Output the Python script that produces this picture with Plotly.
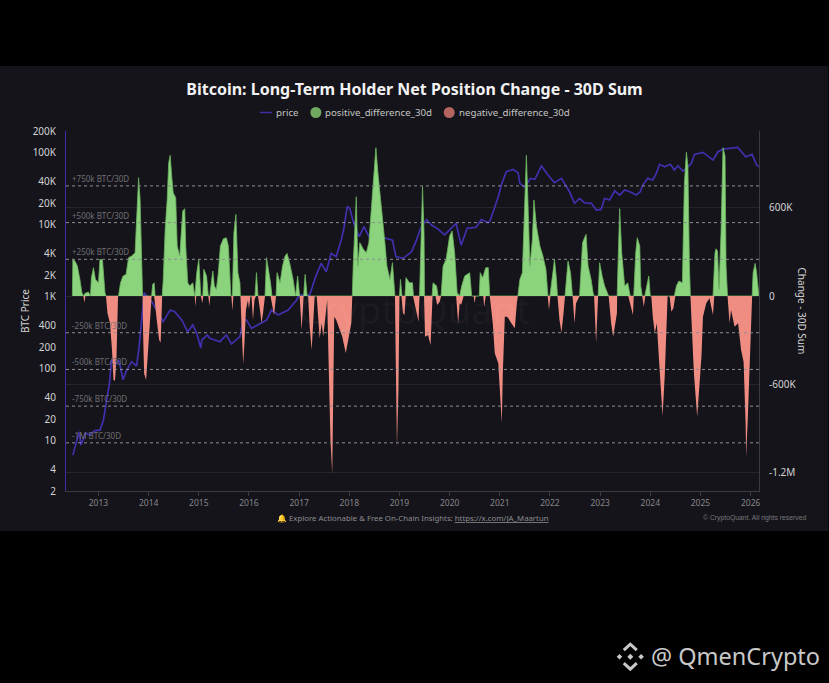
import plotly.graph_objects as go

# years as decimal
price_x = [2012.49, 2012.53, 2012.58, 2012.62, 2012.65, 2012.75, 2012.83, 2012.93, 2013.03, 2013.10,
           2013.16, 2013.22, 2013.26, 2013.33, 2013.41, 2013.49, 2013.55, 2013.66, 2013.76, 2013.81,
           2013.88, 2013.91, 2014.08, 2014.16, 2014.29, 2014.43, 2014.52, 2014.66, 2014.78, 2014.88,
           2014.96, 2015.04, 2015.06, 2015.17, 2015.22, 2015.42, 2015.55, 2015.65, 2015.82, 2015.885,
           2015.95, 2016.05, 2016.22, 2016.35, 2016.45, 2016.58, 2016.78, 2016.95, 2017.0, 2017.21,
           2017.33, 2017.44, 2017.54, 2017.64, 2017.74, 2017.84, 2017.89, 2017.96, 2018.01, 2018.09,
           2018.20, 2018.29, 2018.395, 2018.74, 2018.86, 2018.93, 2019.07, 2019.24, 2019.34, 2019.42,
           2019.54, 2019.64, 2019.75, 2019.90, 2020.13, 2020.23, 2020.35, 2020.53, 2020.63, 2020.765,
           2020.80, 2020.90, 2020.97, 2021.03, 2021.13, 2021.265, 2021.365, 2021.40, 2021.50, 2021.61,
           2021.70, 2021.83, 2021.96, 2022.09, 2022.23, 2022.39, 2022.49, 2022.59, 2022.69, 2022.825,
           2022.925, 2023.02, 2023.09, 2023.19, 2023.29, 2023.39, 2023.49, 2023.59, 2023.72, 2023.80,
           2023.85, 2023.95, 2024.05, 2024.12, 2024.185, 2024.285, 2024.40, 2024.48, 2024.55, 2024.65,
           2024.72, 2024.82, 2024.88, 2025.05, 2025.17, 2025.25, 2025.35, 2025.45, 2025.58, 2025.745,
           2025.90, 2026.03, 2026.12, 2026.165]
price_usd = [6.3, 8.2, 10.8, 13.3, 8.7, 12.7, 12, 13.8, 14, 19.4,
             37, 63, 132, 112, 130, 70, 91, 125, 109, 200,
             650, 1130, 815, 650, 450, 650, 620, 475, 325, 404,
             310, 194, 250, 294, 264, 237, 294, 220, 279, 474,
             474, 363, 425, 474, 653, 557, 653, 899, 1050, 1050,
             1900, 2900, 2220, 4000, 3600, 6125, 8700, 18000, 16800, 10400,
             6800, 9380, 6800, 6450, 6100, 3600, 3400, 4200, 6100, 8900,
             11800, 9900, 8900, 7200, 10400, 5200, 8900, 9200, 11800, 10700,
             11000, 17800, 24500, 35600, 54400, 58600, 52700, 37500, 33000, 44000,
             42700, 65300, 49000, 38300, 44000, 28700, 19800, 23200, 20100, 19800,
             16000, 16300, 23200, 22000, 29600, 25800, 30300, 28700, 25800, 28700,
             35500, 44000, 41700, 51600, 68900, 63800, 68900, 57400, 65900, 55600,
             60500, 71000, 94600, 101000, 87900, 79000, 103000, 112000, 115000, 118500,
             87900, 94600, 67300, 63800]

# thousands of BTC
positive_x = [2012.48, 2012.49, 2012.53, 2012.58, 2012.63, 2012.67, 2012.70, 2012.73, 2012.80, 2012.84,
              2012.86, 2012.90, 2012.94, 2013.0, 2013.03, 2013.08, 2013.13, 2013.15, 2013.40, 2013.44,
              2013.49, 2013.55, 2013.60, 2013.66, 2013.73, 2013.77, 2013.80, 2013.83, 2013.87, 2013.88,
              2014.06, 2014.08, 2014.11, 2014.13, 2014.27, 2014.29, 2014.33, 2014.37, 2014.40, 2014.43,
              2014.46, 2014.49, 2014.54, 2014.57, 2014.62, 2014.68, 2014.72, 2014.74, 2014.78, 2014.82,
              2014.88, 2014.92, 2014.96, 2015.0, 2015.04, 2015.08, 2015.10, 2015.155, 2015.19, 2015.22,
              2015.25, 2015.28, 2015.31, 2015.35, 2015.39, 2015.43, 2015.49, 2015.55, 2015.59, 2015.64,
              2015.67, 2015.70, 2015.74, 2015.78, 2015.82, 2015.83, 2016.12, 2016.15, 2016.18, 2016.32,
              2016.35, 2016.39, 2016.43, 2016.46, 2016.54, 2016.56, 2016.62, 2016.67, 2016.72, 2016.76,
              2016.81, 2016.88, 2016.93, 2016.97, 2017.01, 2017.09, 2017.12, 2017.16, 2018.06, 2018.08,
              2018.11, 2018.14, 2018.17, 2018.21, 2018.28, 2018.34, 2018.39, 2018.44, 2018.49, 2018.53,
              2018.57, 2018.64, 2018.71, 2018.75, 2018.81, 2018.86, 2018.91, 2019.0, 2019.02, 2019.05,
              2019.11, 2019.13, 2019.20, 2019.26, 2019.28, 2019.40, 2019.43, 2019.46, 2019.49, 2019.50,
              2019.65, 2019.67, 2019.74, 2019.77, 2019.83, 2019.87, 2019.93, 2020.0, 2020.05, 2020.10,
              2020.15, 2020.20, 2020.24, 2020.30, 2020.40, 2020.44, 2020.59, 2020.61, 2020.66, 2020.72,
              2020.77, 2020.80, 2021.36, 2021.40, 2021.45, 2021.48, 2021.53, 2021.56, 2021.60, 2021.65,
              2021.68, 2021.73, 2021.80, 2021.86, 2021.92, 2021.96, 2022.0, 2022.05, 2022.09, 2022.13,
              2022.15, 2022.30, 2022.36, 2022.41, 2022.45, 2022.59, 2022.65, 2022.69, 2022.72, 2022.76,
              2022.82, 2022.86, 2022.88, 2022.96, 2022.99, 2023.04, 2023.09, 2023.17, 2023.34, 2023.36,
              2023.39, 2023.43, 2023.49, 2023.55, 2023.60, 2023.67, 2023.71, 2023.74, 2023.79, 2023.81,
              2023.84, 2023.89, 2023.93, 2023.97, 2024.0, 2024.48, 2024.52, 2024.57, 2024.64, 2024.68,
              2024.72, 2024.75, 2024.78, 2024.80, 2025.25, 2025.29, 2025.31, 2025.34, 2025.37, 2025.41,
              2025.45, 2025.49, 2025.51, 2025.54, 2026.03, 2026.05, 2026.09, 2026.12, 2026.165]
positive_k = [0, 250, 238, 204, 113, 23, 0, 18, 27, 0,
              125, 193, 113, 90, 250, 245, 23, 0, 0, 90,
              136, 147, 261, 272, 295, 658, 806, 658, 204, 0,
              0, 79, 90, 0, 0, 102, 454, 658, 908, 958,
              817, 704, 670, 340, 272, 579, 595, 340, 90, 68,
              90, 0, 159, 250, 0, 0, 182, 136, 0, 0,
              90, 170, 68, 45, 159, 340, 390, 397, 340, 0,
              0, 431, 556, 159, 90, 0, 0, 159, 0, 0,
              261, 182, 90, 0, 0, 159, 90, 204, 272, 290,
              227, 113, 0, 136, 0, 0, 147, 0, 0, 227,
              500, 676, 204, 363, 318, 295, 363, 590, 885, 1010,
              840, 613, 363, 204, 113, 227, 0, 0, 113, 0,
              0, 125, 90, 90, 0, 0, 431, 745, 431, 0,
              0, 90, 68, 0, 0, 204, 250, 409, 443, 295,
              23, 0, 68, 136, 159, 0, 0, 159, 125, 193,
              193, 0, 0, 113, 159, 430, 958, 658, 204, 386,
              654, 477, 340, 272, 182, 0, 0, 136, 250, 113,
              0, 0, 238, 159, 0, 0, 363, 397, 420, 204,
              113, 23, 0, 0, 227, 136, 68, 0, 0, 250,
              595, 295, 68, 90, 0, 0, 295, 397, 340, 68,
              0, 0, 68, 136, 0, 0, 68, 102, 90, 772,
              980, 885, 204, 0, 0, 295, 322, 306, 45, 431,
              1010, 953, 204, 0, 0, 159, 222, 159, 0]

negative_x = [2012.70, 2012.72, 2012.74, 2013.15, 2013.18, 2013.23, 2013.27, 2013.30, 2013.33, 2013.36,
              2013.39, 2013.88, 2013.89, 2013.91, 2013.95, 2013.98, 2014.03, 2014.06, 2014.11, 2014.14,
              2014.17, 2014.21, 2014.24, 2014.27, 2014.92, 2014.93, 2014.95, 2015.04, 2015.07, 2015.09,
              2015.19, 2015.21, 2015.23, 2015.65, 2015.67, 2015.69, 2015.83, 2015.85, 2015.885, 2015.91,
              2015.94, 2015.98, 2016.0, 2016.03, 2016.05, 2016.08, 2016.11, 2016.14, 2016.18, 2016.22,
              2016.25, 2016.28, 2016.32, 2016.43, 2016.47, 2016.50, 2016.54, 2017.01, 2017.05, 2017.09,
              2017.18, 2017.21, 2017.25, 2017.28, 2017.31, 2017.35, 2017.38, 2017.41, 2017.45, 2017.48,
              2017.51, 2017.56, 2017.585, 2017.625, 2017.66, 2017.68, 2017.70, 2017.74, 2017.81, 2017.86,
              2017.93, 2017.98, 2018.04, 2018.06, 2018.91, 2018.93, 2018.95, 2018.98, 2019.0, 2019.04,
              2019.07, 2019.10, 2019.125, 2019.27, 2019.34, 2019.38, 2019.40, 2019.49, 2019.51, 2019.57,
              2019.62, 2019.66, 2019.72, 2019.75, 2019.80, 2019.83, 2020.13, 2020.17, 2020.20, 2020.23,
              2020.28, 2020.48, 2020.50, 2020.52, 2020.67, 2020.69, 2020.72, 2020.80, 2020.86, 2020.90,
              2020.97, 2021.0, 2021.04, 2021.06, 2021.10, 2021.14, 2021.17, 2021.23, 2021.30, 2021.34,
              2021.36, 2021.955, 2021.98, 2022.01, 2022.15, 2022.19, 2022.23, 2022.27, 2022.30, 2022.45,
              2022.49, 2022.52, 2022.59, 2022.88, 2022.92, 2022.96, 2023.17, 2023.22, 2023.26, 2023.335,
              2023.34, 2023.56, 2023.62, 2023.655, 2023.67, 2023.84, 2023.87, 2023.90, 2024.02, 2024.05,
              2024.09, 2024.13, 2024.17, 2024.22, 2024.245, 2024.29, 2024.32, 2024.345, 2024.385, 2024.42,
              2024.46, 2024.50, 2024.80, 2024.84, 2024.87, 2024.935, 2024.97, 2025.02, 2025.05, 2025.115,
              2025.18, 2025.215, 2025.25, 2025.275, 2025.54, 2025.58, 2025.61, 2025.68, 2025.75, 2025.81,
              2025.86, 2025.90, 2025.91, 2025.945, 2025.98, 2026.02, 2026.03]
negative_k = [0, -45, 0, 0, -118, -186, -368, -572, -577, -413,
              0, 0, -254, -527, -572, -413, -186, 0, 0, -118,
              -186, -300, -318, 0, 0, -73, 0, 0, -50, 0,
              0, -68, 0, 0, -100, 0, 0, -186, -463, -322,
              -95, -27, -90, 0, 0, -163, -27, 0, 0, -95,
              -186, -118, 0, 0, -73, -130, 0, 0, -231, 0,
              0, -209, -368, -186, 0, 0, -186, -288, -186, -277,
              -186, -27, -413, -980, -1212, -754, -141, -163, -231, -277,
              -390, -300, -186, 0, 0, -527, -1030, -640, 0, 0,
              -118, -130, 0, 0, -118, -175, 0, 0, -277, -266,
              -334, 0, 0, -61, -40, 0, 0, -186, -50, -60,
              0, 0, -50, 0, 0, -73, 0, 0, -186, -390,
              -458, -640, -867, -527, -141, -141, -152, -186, -220, -50,
              0, 0, -95, 0, 0, -163, -250, -118, 0, 0,
              -186, -50, 0, 0, -318, 0, 0, -186, -277, -118,
              0, 0, -95, -130, 0, 0, -73, 0, 0, -141,
              -254, -186, -413, -708, -817, -527, -186, 0, 0, -107,
              -84, 0, 0, -300, -527, -822, -640, -413, -141, -50,
              -16, -73, -130, 0, 0, -186, -95, -209, -186, -368,
              -447, -867, -1094, -822, -527, -95, 0]

year_ticks = list(range(2013, 2027))
price_tickvals = [2, 4, 10, 20, 40, 100, 200, 400, 1000, 2000, 4000, 10000, 20000, 40000, 100000, 200000]
price_ticktext = ["2", "4", "10", "20", "40", "100", "200", "400", "1K", "2K", "4K", "10K", "20K", "40K", "100K", "200K"]
change_tickvals = [-1200, -600, 0, 600]
change_ticktext = ["-1.2M", "-600K", "0", "600K"]
ref_levels = [750, 500, 250, -250, -500, -750, -1000]
ref_labels = ["+750k BTC/30D", "+500k BTC/30D", "+250k BTC/30D", "-250k BTC/30D",
              "-500k BTC/30D", "-750k BTC/30D", "-1M BTC/30D"]

FONT = "Noto Sans"
W, H = 829, 683
L, R, T, B = 66, 759.5, 131, 491


def px(x):
    return (x - L) / (R - L)


def py(y):
    return (B - y) / (B - T)


def label(text, x, y, size, color, xanchor="left", family=FONT, angle=0):
    return dict(text=text, xref="paper", yref="paper", x=px(x), y=py(y), xanchor=xanchor, yanchor="middle",
                textangle=angle, showarrow=False, font=dict(family=family, size=size, color=color))


fig = go.Figure()

fig.add_trace(go.Scatter(x=price_x, y=price_usd, mode="lines", name="price",
                         line=dict(color="#3f30ae", width=1.7), yaxis="y"))
fig.add_trace(go.Scatter(x=positive_x, y=positive_k, mode="lines", fill="tozeroy", name="positive_difference_30d",
                         fillcolor="#8bd37c", line=dict(color="#6cb45f", width=0.8), yaxis="y2"))
fig.add_trace(go.Scatter(x=negative_x, y=negative_k, mode="lines", fill="tozeroy", name="negative_difference_30d",
                         fillcolor="#f08d83", line=dict(color="#f08d83", width=0), yaxis="y2"))

shapes = [dict(type="rect", xref="paper", yref="paper", x0=px(0), x1=px(W), y0=py(66), y1=py(531),
               fillcolor="#15141a", line_width=0, layer="below")]
for level in ref_levels:
    shapes.append(dict(type="line", xref="paper", yref="y2", x0=0, x1=1, y0=level, y1=level,
                       line=dict(color="#8f8f94", width=1, dash="3px,3px")))

# legend drawn by hand, the built-in one can't do the short line and the spacing
shapes.append(dict(type="line", xref="paper", yref="paper", x0=px(260), x1=px(272), y0=py(112.5), y1=py(112.5),
                   line=dict(color="#3b2ea6", width=1.5)))
for cx_dot, colour in ((316, "#6fa85e"), (449.5, "#b5655f")):
    shapes.append(dict(type="circle", xref="paper", yref="paper", x0=px(cx_dot - 5.5), x1=px(cx_dot + 5.5),
                       y0=py(112.5 + 5.5), y1=py(112.5 - 5.5), fillcolor=colour, line_width=0))

# binance logo next to the handle
logo = "#c9c9c9"
cx, cy = 630.7, 656.7
for sign in (-1, 1):
    shapes.append(dict(type="path", xref="paper", yref="paper", line=dict(color=logo, width=3),
                       path=f"M {px(cx-6.5)} {py(cy+sign*6.5)} L {px(cx)} {py(cy+sign*12.5)} L {px(cx+6.5)} {py(cy+sign*6.5)}"))
for dx, r in ((-10.8, 2.8), (0, 3), (10.8, 2.8)):
    shapes.append(dict(type="path", xref="paper", yref="paper", fillcolor=logo, line_width=0,
                       path=f"M {px(cx+dx-r)} {py(cy)} L {px(cx+dx)} {py(cy-r)} L {px(cx+dx+r)} {py(cy)} L {px(cx+dx)} {py(cy+r)} Z"))

annotations = []
for level, text in zip(ref_levels, ref_labels):
    annotations.append(dict(text=text, xref="paper", yref="y2", x=px(70), y=level, xanchor="left", yanchor="bottom",
                            showarrow=False, font=dict(family=FONT, size=8, color="#6f6f74")))
for x_left, text in ((275, "price"), (324, "positive_difference_30d"), (458, "negative_difference_30d")):
    annotations.append(label(text, x_left - 1, 112.5, 9.7, "#c4c4c4"))
annotations += [
    label("BTC Price", 25, 311, 10, "#d2d2d2", "center", angle=-90),
    label("Change - 30D Sum", 803, 311, 10, "#d2d2d2", "center", angle=90),
    label("CryptoQuant", 415, 309, 38, "rgba(255,255,255,0.035)", "center"),
    label("🔔 Explore Actionable & Free On-Chain Insights: <u>https://x.com/JA_Maartun</u>", 413, 518, 7.8, "#8d8d90", "center"),
    label("© CryptoQuant. All rights reserved", 809, 518, 6.8, "#77777a", "right", family="Liberation Sans"),
    label("@ QmenCrypto", 649, 656, 23.5, "#c9c9c9"),
]

fig.update_layout(
    width=W, height=H,
    margin=dict(l=L, r=W - R, t=T, b=H - B, pad=0),
    paper_bgcolor="#000000",
    plot_bgcolor="rgba(0,0,0,0)",
    showlegend=False,
    font=dict(family=FONT, color="#cfcfcf", size=10),
    title=dict(text="<b>Bitcoin: Long-Term Holder Net Position Change - 30D Sum</b>", x=0.5, xref="container", xanchor="center",
               y=1 - 89 / H, yref="container", yanchor="middle", font=dict(family=FONT, size=16, color="#f2f2f2")),
    xaxis=dict(range=[2012.353, 2026.167], tickvals=year_ticks, ticktext=[str(y) for y in year_ticks], showgrid=False,
               ticks="outside", ticklen=4, tickcolor="#3a3a40", tickfont=dict(size=8.5, color="#86868a"),
               showline=True, linecolor="#3a3a40", zeroline=False),
    yaxis=dict(type="log", range=[0.30103, 5.30103], tickvals=price_tickvals, ticktext=price_ticktext, showgrid=False,
               ticks="outside", ticklen=7, tickcolor="rgba(0,0,0,0)", tickfont=dict(size=10, color="#d2d2d2"),
               showline=True, linecolor="#3b2ea6", zeroline=False),
    yaxis2=dict(overlaying="y", side="right", range=[-1328, 1124], tickvals=change_tickvals, ticktext=change_ticktext,
                showgrid=True, gridcolor="#26252b", gridwidth=1, zeroline=False,
                ticks="outside", ticklen=7, tickcolor="rgba(0,0,0,0)", tickfont=dict(size=10, color="#d2d2d2"),
                showline=True, linecolor="#3a3a40"),
    shapes=shapes,
    annotations=annotations,
)

# page margin would push the figure 8px off
fig.write_html("out.html", config={"displayModeBar": False}, post_script="document.body.style.margin='0';")
